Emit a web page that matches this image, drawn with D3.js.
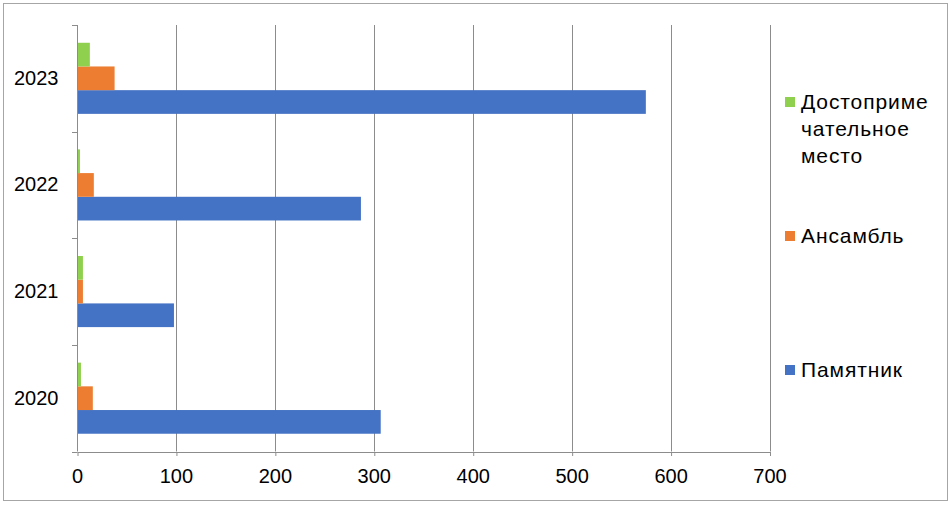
<!DOCTYPE html>
<html lang="ru">
<head>
<meta charset="utf-8">
<title>Объекты по годам</title>
<script src="https://d3js.org/d3.v7.min.js"></script>
<style>
  body { margin: 0; background: #fff; }
  text { font-family: "Liberation Sans", Arial, sans-serif; }
</style>
</head>
<body>
<script>
// data
var years = ["2020", "2021", "2022", "2023"];
var seriesNames = ["Памятник", "Ансамбль", "Достопримечательное место"];
var pamyatnik = [307, 98, 287, 575];
var ansambl = [16, 6, 17, 38];
var dostopr = [4, 6, 3, 13];
var xTicks = [0, 100, 200, 300, 400, 500, 600, 700];
var colors = ["#4472c4", "#ed7d31", "#8fd14f"];
var legendLines = [["Памятник"], ["Ансамбль"], ["Достоприме", "чательное", "место"]];

var width = 952, height = 505;
var plotLeft = 77, plotRight = 769.5, plotTop = 25, plotBottom = 451.5;
var fontSize = "20px";

var svg = d3.select("body").append("svg")
    .attr("width", width)
    .attr("height", height);

// outer frame
svg.append("rect")
    .attr("x", 3.5).attr("y", 3.5)
    .attr("width", 944).attr("height", 497)
    .attr("fill", "#fff")
    .attr("stroke", "#a6a6a6");

var x = d3.scaleLinear().domain([0, 700]).range([plotLeft, plotRight]);

// 2020 at the bottom, 2023 at the top
var y = d3.scaleBand()
    .domain(years.slice().reverse())
    .range([plotTop, plotBottom])
    .padding(0);

// inside a category: green on top, then orange, blue at the bottom
var inner = d3.scaleBand()
    .domain([2, 1, 0])
    .range([0, y.bandwidth()])
    .paddingInner(0)
    .paddingOuter(0.75);

var values = [pamyatnik, ansambl, dostopr];

// vertical grid lines
svg.append("g").selectAll("line")
  .data(xTicks.filter(function(d) { return d > 0; }))
  .enter().append("line")
    .attr("x1", function(d) { return Math.round(x(d)) + 0.5; })
    .attr("x2", function(d) { return Math.round(x(d)) + 0.5; })
    .attr("y1", plotTop)
    .attr("y2", plotBottom)
    .attr("stroke", "#8c8c8c")
    .attr("stroke-width", 1);

// bars
values.forEach(function(vals, s) {
  svg.append("g").selectAll("rect")
    .data(years)
    .enter().append("rect")
      .attr("x", x(0))
      .attr("y", function(d) { return y(d) + inner(s); })
      .attr("width", function(d, i) { return x(vals[i]) - x(0); })
      .attr("height", inner.bandwidth())
      .attr("fill", colors[s]);
});

// y axis (categories)
var yAxis = svg.append("g")
    .attr("transform", "translate(" + (Math.round(x(0)) + 0.5) + ",0)")
    .call(d3.axisLeft(y).tickSize(0).tickPadding(19));
yAxis.select(".domain").attr("stroke", "#8c8c8c").attr("d", "M0," + plotTop + "V" + plotBottom);
yAxis.selectAll("text").attr("font-size", fontSize).attr("fill", "#000")
    .attr("font-family", "Liberation Sans, Arial, sans-serif");
// tick marks on category boundaries
svg.append("g").selectAll("line")
  .data(years.concat(["end"]))
  .enter().append("line")
    .attr("x1", Math.round(x(0)) - 5)
    .attr("x2", Math.round(x(0)))
    .attr("y1", function(d, i) { return Math.round(plotTop + i * y.step()) + 0.5; })
    .attr("y2", function(d, i) { return Math.round(plotTop + i * y.step()) + 0.5; })
    .attr("stroke", "#8c8c8c");

// x axis
var xAxis = svg.append("g")
    .attr("transform", "translate(0," + (plotBottom + 0.5) + ")")
    .call(d3.axisBottom(x).tickValues(xTicks).tickSize(4).tickPadding(13).tickSizeOuter(0));
xAxis.select(".domain").attr("stroke", "#8c8c8c");
xAxis.selectAll(".tick line").attr("stroke", "#8c8c8c")
    .attr("transform", function() { return "translate(0.5,0)"; });
xAxis.selectAll("text").attr("font-size", fontSize).attr("fill", "#000")
    .attr("font-family", "Liberation Sans, Arial, sans-serif");

// legend
var legendY = [370, 236, 102];
legendLines.forEach(function(lines, s) {
  var g = svg.append("g").attr("transform", "translate(785," + legendY[s] + ")");
  g.append("rect")
    .attr("x", 0).attr("y", -5)
    .attr("width", 10).attr("height", 10)
    .attr("fill", colors[s]);
  var t = g.append("text")
    .attr("x", 16)
    .attr("y", 0)
    .attr("font-size", "21px")
    .attr("letter-spacing", "0.9px")
    .attr("fill", "#000");
  lines.forEach(function(line, i) {
    t.append("tspan")
      .attr("x", 16)
      .attr("dy", i === 0 ? "0.35em" : "27px")
      .text(line);
  });
});
</script>
</body>
</html>
